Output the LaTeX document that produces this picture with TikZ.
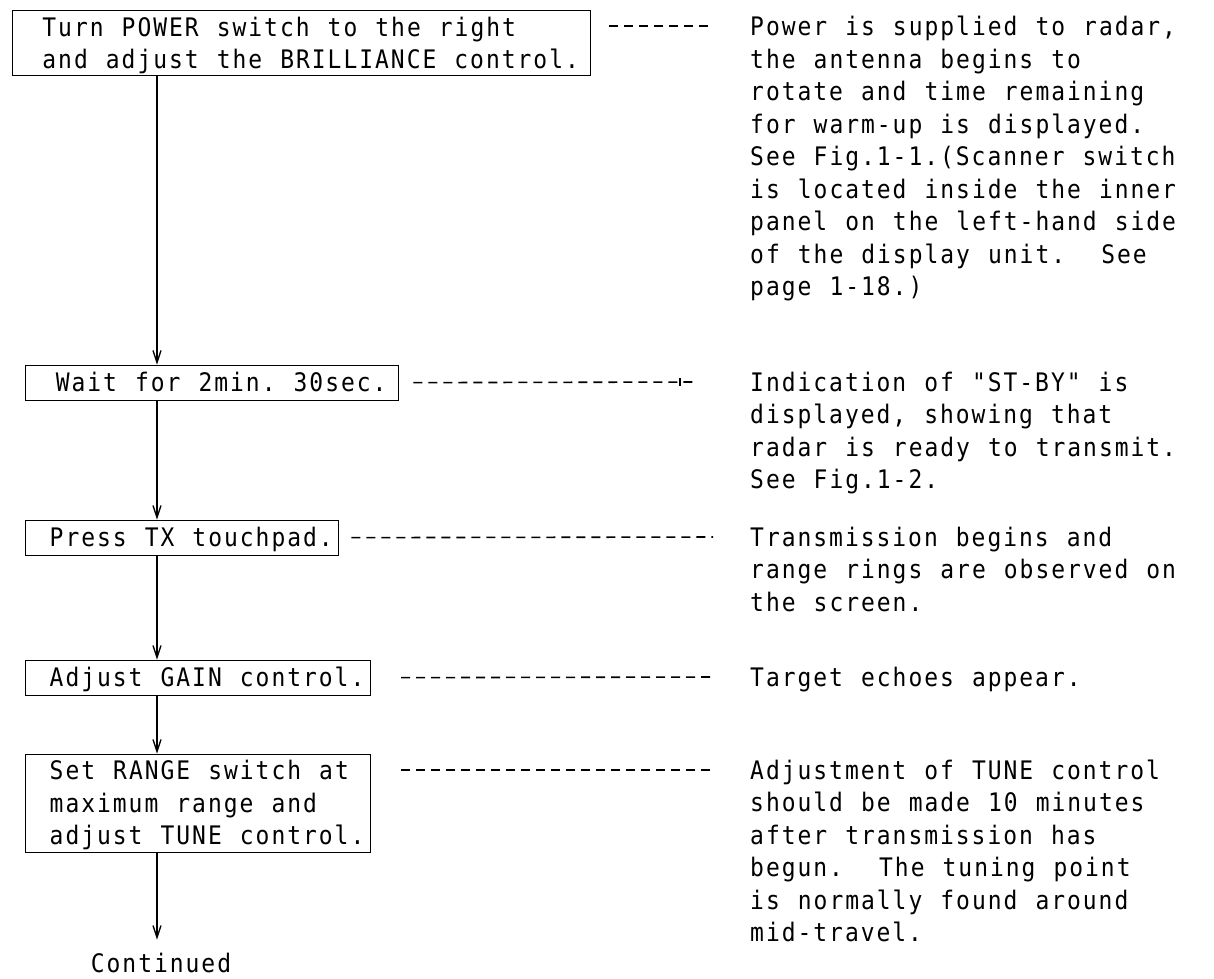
\documentclass[tikz,border=0pt]{standalone}
\usepackage{fontspec}
\setmonofont{DejaVu Sans Mono}[FakeStretch=0.9, LetterSpace=7.8, WordSpace=1.143]
\usetikzlibrary{arrows.meta,calc}
\newcommand\sx{\rule[-7pt]{0pt}{32.5pt}}
\frenchspacing
\begin{document}
\begin{tikzpicture}[x=1pt,y=-1pt,
  every node/.style={font=\ttfamily\fontsize{25.5pt}{32.5pt}\selectfont},
  stepbox/.style={draw, line width=1.3pt, align=left, anchor=north west,
    inner xsep=6pt, inner ysep=0pt, minimum height=35pt},
  desc/.style={align=left, anchor=north west, inner sep=0pt},
  leader/.style={line width=1.6pt, dash pattern=on 9pt off 6pt},
  flow/.style={line width=1.6pt, -{Straight Barb[length=12pt,width=8pt,line width=1.3pt]}}]
\useasboundingbox (0,0) rectangle (1214,978);

\coordinate (ax) at (157,0);

% left column
\node[stepbox, minimum width=578pt] (b1) at (12,10)
  {\sx~Turn POWER switch to the right\\\sx~and adjust the BRILLIANCE control.};
\node[stepbox, minimum width=373pt] (b2) at (25,364.5) {\sx~Wait for 2min. 30sec.};
\node[stepbox] (b3) at (25,519.5) {\sx~Press TX touchpad.};
\node[stepbox] (b4) at (25,659.5) {\sx~Adjust GAIN control.};
\node[stepbox, minimum height=98pt] (b5) at (25,753.5)
  {\sx~Set RANGE switch at\\\sx~maximum range and\\\sx~adjust TUNE control.};
\node[inner sep=0pt] (cont) at (161,963) {\sx Continued};

% right column
\node[desc] (r1) at (750,10) {\sx Power is supplied to radar,\\\sx the antenna begins to\\\sx rotate and time remaining\\\sx for warm-up is displayed.\\\sx See Fig.1-1.(Scanner switch\\\sx is located inside the inner\\\sx panel on the left-hand side\\\sx of the display unit.~~See\\\sx page 1-18.)};
\node[desc] (r2) at (750,365.75) {\sx Indication of "ST-BY" is\\\sx displayed, showing that\\\sx radar is ready to transmit.\\\sx See Fig.1-2.};
\node[desc] (r3) at (750,520.75) {\sx Transmission begins and\\\sx range rings are observed on\\\sx the screen.};
\node[desc] (r4) at (750,660.75) {\sx Target echoes appear.};
\node[desc] (r5) at (750,753.75) {\sx Adjustment of TUNE control\\\sx should be made 10 minutes\\\sx after transmission has\\\sx begun.~~The tuning point\\\sx is normally found around\\\sx mid-travel.};

% flow arrows
\draw[flow] (b1.south -| ax) -- (b2.north -| ax);
\draw[flow] (b2.south -| ax) -- (b3.north -| ax);
\draw[flow] (b3.south -| ax) -- (b4.north -| ax);
\draw[flow] (b4.south -| ax) -- (b5.north -| ax);
\draw[flow, shorten >=7pt] (b5.south -| ax) -- (cont.north -| ax);

% dashed leaders
\draw[leader] ([xshift=18pt,yshift=-16.25pt]b1.north east) -- ([xshift=-37pt,yshift=-16.25pt]r1.north west);
\draw[leader] ([xshift=14pt]b2.east) -- ([xshift=-52pt,yshift=-16.25pt]r2.north west);
\draw[line width=1.2pt] ([xshift=-70pt,yshift=-12.5pt]r2.north west) -- ([xshift=-70pt,yshift=-20pt]r2.north west);
\draw[leader] ([xshift=12pt]b3.east) -- ([xshift=-37pt,yshift=-16.25pt]r3.north west);
\draw[leader] ([xshift=30pt]b4.east) -- ([xshift=-37pt,yshift=-16.25pt]r4.north west);
\draw[leader] ([xshift=30pt,yshift=-16.5pt]b5.north east) -- ([xshift=-37pt,yshift=-16.25pt]r5.north west);
\end{tikzpicture}
\end{document}
